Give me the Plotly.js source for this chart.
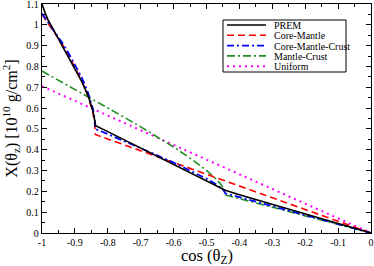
<!DOCTYPE html>
<html><head><meta charset="utf-8">
<script src="https://cdn.plot.ly/plotly-3.0.1.min.js"></script>
<style>html,body{margin:0;padding:0;background:#fff}#plot{width:374px;height:266px}</style>
</head><body><div id="plot"></div>
<script>
// PREM
const premX = [-1, -0.995, -0.99, -0.982, -0.97, -0.95, -0.92, -0.9, -0.88, -0.86, -0.85, -0.845, -0.84, -0.837, -0.8, -0.75, -0.7, -0.6, -0.5, -0.443, -0.4, -0.3, -0.2, -0.1, -0.05, 0];
const premY = [1.1, 1.075, 1.055, 1.025, 0.99, 0.935, 0.85, 0.79, 0.73, 0.66, 0.615, 0.585, 0.545, 0.515, 0.487, 0.448, 0.409, 0.33, 0.252, 0.205, 0.184, 0.138, 0.093, 0.047, 0.022, 0];
// Core-Mantle
const cmX = [-1, -0.98, -0.96, -0.94, -0.92, -0.9, -0.88, -0.86, -0.85, -0.845, -0.84, -0.838, 0];
const cmY = [1.05, 1.005, 0.958, 0.91, 0.857, 0.80, 0.736, 0.658, 0.607, 0.575, 0.528, 0.473, 0];
// Core-Mantle-Crust
const cmcX = [-1, -0.98, -0.96, -0.94, -0.92, -0.9, -0.88, -0.86, -0.85, -0.845, -0.84, -0.838, -0.8, -0.75, -0.7, -0.65, -0.6, -0.55, -0.5, -0.47, -0.455, -0.447, -0.443, 0];
const cmcY = [1.054, 1.010, 0.965, 0.917, 0.866, 0.811, 0.749, 0.674, 0.626, 0.595, 0.551, 0.500, 0.475, 0.442, 0.408, 0.373, 0.338, 0.301, 0.261, 0.233, 0.216, 0.204, 0.1905, 0];
// Mantle-Crust
const mcX = [-1, -0.95, -0.9, -0.85, -0.8, -0.75, -0.7, -0.65, -0.6, -0.55, -0.5, -0.47, -0.455, -0.447, -0.443, 0];
const mcY = [0.778, 0.734, 0.691, 0.646, 0.601, 0.556, 0.510, 0.462, 0.413, 0.360, 0.301, 0.258, 0.231, 0.210, 0.183, 0];
// Uniform
const uX = [-1, -0.5, 0];
const uY = [0.705, 0.3525, 0];

// tick labels
const xTickVals = [-1, -0.9, -0.8, -0.7, -0.6, -0.5, -0.4, -0.3, -0.2, -0.1, 0];
const xTickText = ['-1', '-0.9', '-0.8', '-0.7', '-0.6', '-0.5', '-0.4', '-0.3', '-0.2', '-0.1', '0'];
const yTickVals = [0, 0.1, 0.2, 0.3, 0.4, 0.5, 0.6, 0.7, 0.8, 0.9, 1, 1.1];
const yTickText = ['0', '0.1', '0.2', '0.3', '0.4', '0.5', '0.6', '0.7', '0.8', '0.9', '1', '1.1'];

const names = ['PREM', 'Core-Mantle', 'Core-Mantle-Crust', 'Mantle-Crust', 'Uniform'];
const colors = ['#000000', '#ff0000', '#0000ff', '#1f8f1f', '#ff00ff'];
const dashes = ['solid', '7px,4px', '7px,3px,2px,3px', '8px,3px,2px,3px', '2px,4px'];
const widths = [1.6, 1.6, 1.8, 1.6, 2];
const xs = [premX, cmX, cmcX, mcX, uX];
const ys = [premY, cmY, cmcY, mcY, uY];

const traces = xs.map((x, i) => ({
  x: x, y: ys[i], type: 'scatter', mode: 'lines', name: names[i], showlegend: false,
  line: {color: colors[i], dash: dashes[i], width: widths[i]}
}));
const order = [4, 3, 1, 2, 0];
const data = order.map(i => traces[i]);

const L = 42, R = 3, T = 4, B = 33, W = 374, H = 266;
const pw = W - L - R, ph = H - T - B;
const px = v => (v - L) / pw;
const py = v => 1 - (v - T) / ph;

const shapes = [{type: 'rect', xref: 'paper', yref: 'paper', x0: px(223), x1: px(346), y0: py(72), y1: py(20),
  line: {color: '#000', width: 1}, fillcolor: '#fff', layer: 'above'}];
const annotations = [];
const rowY = [25, 35.3, 45.6, 55.9, 66.2];
names.forEach((n, i) => {
  shapes.push({type: 'line', xref: 'paper', yref: 'paper', x0: px(227), x1: px(266), y0: py(rowY[i]), y1: py(rowY[i]),
    line: {color: colors[i], dash: dashes[i], width: widths[i]}, layer: 'above'});
  annotations.push({xref: 'paper', yref: 'paper', x: px(273), y: py(rowY[i]), xanchor: 'left', yanchor: 'middle',
    text: n, showarrow: false, height: 10, borderpad: 0, font: {family: 'Liberation Serif', size: 10, color: '#000'}});
});
// x-axis title
annotations.push({xref: 'paper', yref: 'paper', x: 0.5, y: py(256), xanchor: 'center', yanchor: 'middle',
  text: 'cos (θ<sub>Z</sub>)', showarrow: false, borderpad: 0, font: {family: 'Liberation Serif', size: 16.5, color: '#000'}});

const axisCommon = {
  showgrid: false, zeroline: false, showline: true, linecolor: '#000', linewidth: 1.2, mirror: 'allticks',
  ticks: 'inside', ticklen: 5, tickwidth: 1, tickcolor: '#000', tickmode: 'array', ticklabeloverflow: 'allow',
  tickfont: {family: 'Liberation Serif', size: 10, color: '#000'},
  minor: {ticks: 'inside', ticklen: 3, tickwidth: 1, tickcolor: '#000'}
};

const layout = {
  width: W, height: H, margin: {l: L, r: R, t: T, b: B},
  paper_bgcolor: '#fff', plot_bgcolor: '#fff', showlegend: false,
  xaxis: Object.assign({}, axisCommon, {range: [-1, 0], tickvals: xTickVals, ticktext: xTickText,
    minor: Object.assign({}, axisCommon.minor, {dtick: 0.05, tick0: 0})}),
  yaxis: Object.assign({}, axisCommon, {range: [0, 1.1], tickvals: yTickVals, ticktext: yTickText,
    minor: Object.assign({}, axisCommon.minor, {dtick: 0.05, tick0: 0}),
    title: {text: 'X(θ<sub>z</sub>) [10<sup>10</sup> g/cm<sup>2</sup>]', font: {family: 'Liberation Serif', size: 16, color: '#000'}, standoff: 5}}),
  shapes: shapes, annotations: annotations
};

Plotly.newPlot('plot', data, layout, {staticPlot: true, displayModeBar: false});
</script>
</body></html>
